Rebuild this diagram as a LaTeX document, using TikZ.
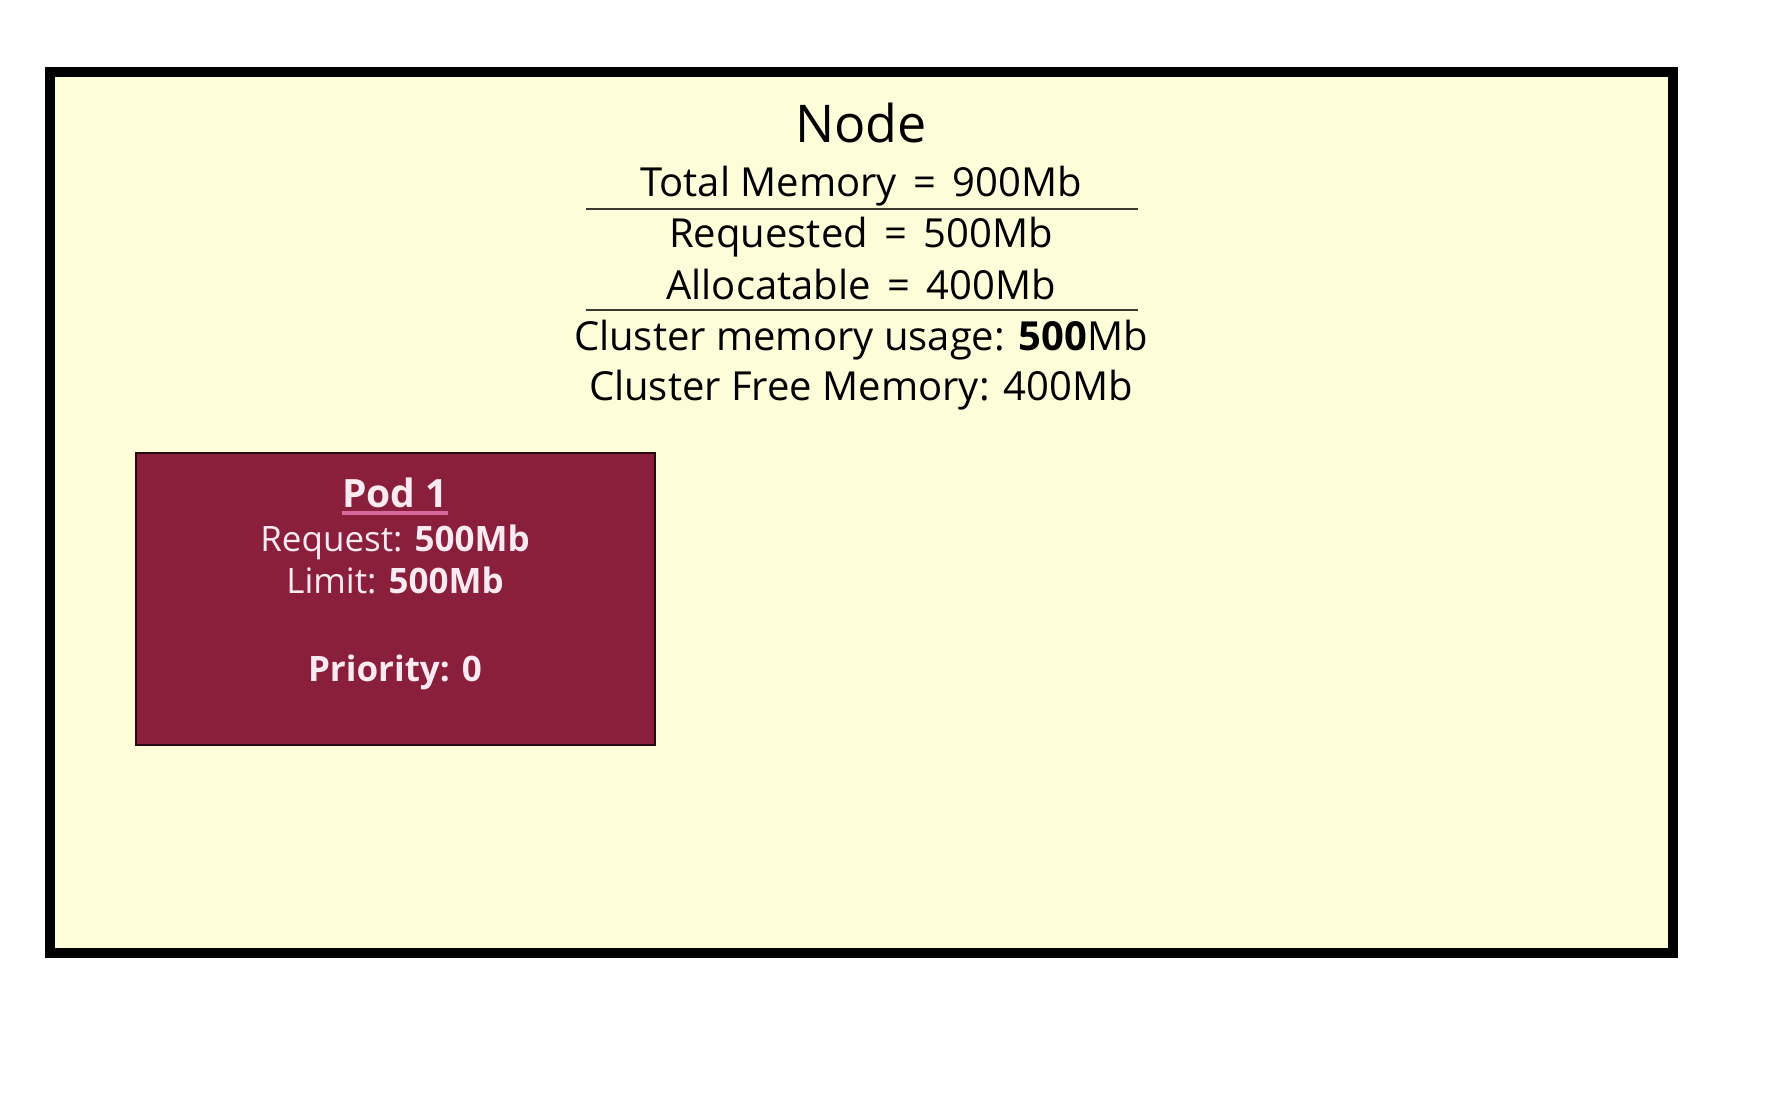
\documentclass[tikz,border=0pt]{standalone}
\usepackage{fontspec}
\setmainfont{Open Sans}
\usetikzlibrary{calc}
\definecolor{bgyellow}{HTML}{FDFDDA}
\definecolor{podred}{HTML}{8A1F3B}
\definecolor{podtext}{HTML}{FBEAF2}
\definecolor{podline}{HTML}{D8689A}
\definecolor{rulegray}{HTML}{3A3A30}
\newcommand{\eqsp}{\ \hspace{3pt}=\hspace{3pt}\ }
\tikzset{
  nodetxt/.style={font=\fontsize{20}{24}\selectfont, text=black, inner sep=0pt, anchor=base},
  podtxt/.style={font=\fontsize{17.5}{20}\selectfont, text=podtext, inner sep=0pt, anchor=base},
  rule/.style={draw=rulegray, line width=1pt},
}
\begin{document}
\begin{tikzpicture}[x=0.5pt,y=-0.5pt]
\useasboundingbox (0,0) rectangle (1784,1108);
\fill[white] (0,0) rectangle (1784,1108);
% outer node box
\draw[fill=bgyellow, line width=5pt] (50,72) rectangle (1673,953);
% title and figures
\node[nodetxt, font=\fontsize{26}{30}\selectfont] (title) at (861,142) {Node};
\node[nodetxt] (total) at (861,196) {Total Memory\eqsp 900Mb};
\coordinate (r1a) at (586,209);
\coordinate (r1b) at (1138,209);
\draw[rule] (r1a) -- (r1b);
\node[nodetxt] (req) at (861,247) {Requested\eqsp 500Mb};
\node[nodetxt] (alloc) at (861,299) {Allocatable\eqsp 400Mb};
\coordinate (r2a) at (586,310);
\coordinate (r2b) at (1138,310);
\draw[rule] (r2a) -- (r2b);
\node[nodetxt] (usage) at (861,350) {Cluster memory usage: \textbf{500}Mb};
\node[nodetxt] (free) at (861,400) {Cluster Free Memory: 400Mb};
% pod
\draw[fill=podred, draw=black!70!podred, line width=1.2pt] (136,453) rectangle (655,745);
\node[podtxt, font=\bfseries\fontsize{19.5}{22}\selectfont] (podt) at (395,507) {Pod 1};
\draw[podline, line width=1.6pt] ($(podt.base west)+(0,6)$) -- ($(podt.base east)+(0,6)$);
\node[podtxt] (preq) at (395,551) {Request: \textbf{500Mb}};
\node[podtxt] (plim) at (395,593) {Limit: \textbf{500Mb}};
\node[podtxt, font=\bfseries\fontsize{17.5}{20}\selectfont] (pprio) at (395,681) {Priority: 0};
\end{tikzpicture}
\end{document}
